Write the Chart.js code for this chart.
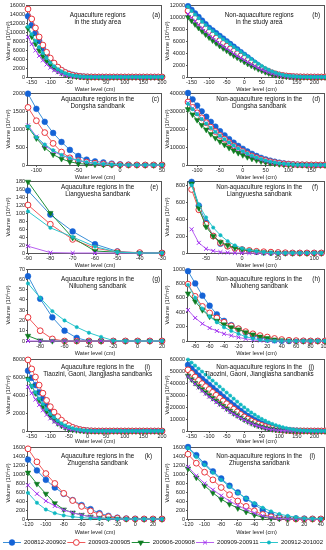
<!DOCTYPE html>
<html lang="en">
<head>
<meta charset="UTF-8">
<title>Water level - volume curves</title>
<script src="https://cdn.jsdelivr.net/npm/chart.js"></script>
<style>
  html, body { margin: 0; padding: 0; background: #fff; overflow: hidden; width: 326px; height: 550px; }
  canvas { position: absolute; }
</style>
</head>
<body>
<script>
// periods (legend)
var periods = ['200812-200902', '200903-200905', '200906-200908', '200909-200911', '200912-201002'];

// water levels (cm)
var levels1 = [-160,-150,-140,-130,-120,-110,-100,-90,-80,-70,-60,-50,-40,-30,-20,-10,0,10,20,30,40,50,60,70,80,90,100,110,120,130,140,150,160,170,180,190,200];
var levels2 = [-160,-150,-140,-130,-120,-110,-100,-90,-80,-70,-60,-50,-40,-30,-20,-10,0,10,20,30,40,50,60,70,80,90,100,110,120,130,140,150,160,170,180,190,200,210,220,230];
var levels3 = [-110,-100,-90,-80,-70,-60,-50,-40,-30,-20,-10,0,10,20,30,40,50];
var levels4 = [-120,-110,-100,-90,-80,-70,-60,-50,-40,-30,-20,-10,0,10,20,30,40,50,60,70,80,90,100,110,120,130,140,150,160,170,180];
var levels5 = [-90,-80,-70,-60,-50,-40,-30];
var levels6 = [-70,-60,-50,-40,-30,-20,-10,0,10,20,30,40,50,60,70,80,90,100,110];
var levels7 = [-90,-80,-70,-60,-50,-40,-30,-20,-10,0,10,20];
var levels8 = [-90,-80,-70,-60,-50,-40,-30,-20,-10,0,10,20,30,40,50,60,70,80,90,100];
var levels9 = [-120,-110,-100,-90,-80,-70,-60,-50,-40,-30,-20,-10,0,10,20,30];
var levels10 = [-120,-110,-100,-90,-80,-70,-60,-50,-40,-30,-20,-10,0,10,20,30,40];

// (a) aquaculture, study area
var aBlue = [13500,11500,9800,8000,6300,4900,3700,2800,2100,1500,1050,720,470,300,180,100,50,25,10,5,0,0,0,0,0,0,0,0,0,0,0,0,0,0,0,0,0];
var aRed = [15100,12900,10900,8900,7100,5500,4200,3100,2200,1500,1000,620,380,220,120,60,25,10,0,0,0,0,0,0,0,0,0,0,0,0,0,0,0,0,0,0,0];
var aGreen = [10800,9000,7400,5900,4600,3500,2600,1900,1350,900,580,360,210,120,60,25,10,0,0,0,0,0,0,0,0,0,0,0,0,0,0,0,0,0,0,0,0];
var aPurple = [8900,7300,5900,4700,3700,2800,2100,1500,1050,700,450,280,160,90,40,15,5,0,0,0,0,0,0,0,0,0,0,0,0,0,0,0,0,0,0,0,0];
var aCyan = [11200,9500,8000,6600,5300,4200,3200,2400,1750,1250,850,560,350,210,120,60,25,10,0,0,0,0,0,0,0,0,0,0,0,0,0,0,0,0,0,0,0];

// (b) non-aquaculture, study area
var bBlue = [11800,11200,10600,10000,9400,8800,8200,7750,7300,6850,6400,5950,5500,5050,4600,4150,3700,3250,2800,2350,1900,1500,1150,870,640,460,320,220,150,100,60,35,20,10,5,0,0,0,0,0];
var bRed = [11000,10400,9800,9200,8600,8050,7500,7000,6500,6050,5600,5150,4700,4300,3900,3500,3150,2800,2450,2100,1750,1450,1150,900,680,500,360,250,170,110,70,40,25,15,8,4,2,0,0,0];
var bGreen = [10000,9400,8800,8200,7650,7100,6600,6100,5650,5200,4800,4400,4000,3600,3250,2900,2550,2200,1900,1600,1320,1060,830,630,460,330,230,150,95,55,30,15,7,3,0,0,0,0,0,0];
var bPurple = [10500,9900,9300,8700,8100,7550,7000,6500,6000,5550,5100,4700,4300,3900,3500,3150,2800,2450,2100,1800,1500,1220,970,750,560,400,280,190,120,75,45,25,12,5,0,0,0,0,0,0];
var bCyan = [11700,11000,10400,9800,9200,8650,8100,7650,7200,6750,6300,5900,5450,5000,4600,4200,3800,3400,3000,2600,2200,1850,1500,1200,930,700,520,370,260,180,120,75,45,25,12,5,0,0,0,0];

// (c) aquaculture, Dongsha
var cBlue = [1980,1560,1200,890,640,420,250,150,100,70,40,20,10,5,0,0,0];
var cRed = [1600,1230,900,600,360,200,120,80,50,30,15,5,0,0,0,0,0];
var cGreen = [1050,740,480,290,170,90,40,20,10,5,0,0,0,0,0,0,0];
var cPurple = [1100,790,540,380,270,190,120,70,40,20,10,5,0,0,0,0,0];
var cCyan = [1070,770,570,410,280,190,130,80,50,30,15,5,0,0,0,0,0];

// (d) non-aquaculture, Dongsha
var dBlue = [40000,36500,33000,29800,26800,24000,21300,18800,16500,14400,12400,10600,9000,7500,6200,5000,4000,3100,2400,1800,1300,900,600,380,230,130,70,35,15,5,0];
var dRed = [35000,32000,29000,26200,23500,21000,18600,16400,14300,12400,10600,9000,7500,6200,5000,4000,3100,2400,1800,1300,900,600,400,250,150,90,50,25,10,5,0];
var dGreen = [31000,28000,25000,22200,19600,17200,15000,13000,11200,9500,8000,6700,5500,4400,3500,2700,2000,1500,1050,700,450,280,170,100,50,25,10,0,0,0,0];
var dPurple = [34500,31500,28600,25800,23200,20700,18400,16200,14100,12200,10400,8800,7300,6000,4800,3800,2900,2200,1600,1150,800,530,340,210,120,65,30,15,5,0,0];
var dCyan = [34000,31000,28200,25500,23000,20600,18400,16300,14300,12500,10800,9200,7700,6400,5200,4200,3300,2500,1900,1400,1000,700,470,300,180,100,55,25,10,5,0];

// (e) aquaculture, Liangyuesha
var eBlue = [156,96,54,22,4,0,0];
var eRed = [120,72,34,12,3,1,0];
var eGreen = [178,100,38,5,2,0,0];
var ePurple = [17,1,0,0,0,0,0];
var eCyan = [104,63,40,16,2,0,0];

// (f) non-aquaculture, Liangyuesha
var fBlue = [840,560,360,200,110,80,60,40,25,15,8,5,3,0,0,0,0,0,0];
var fRed = [750,510,340,200,120,80,55,40,30,20,15,10,6,3,0,0,0,0,0];
var fGreen = [820,530,310,200,130,90,60,40,25,15,8,4,0,0,0,0,0,0,0];
var fPurple = [280,120,50,25,10,5,0,0,0,0,0,0,0,0,0,0,0,0,0];
var fCyan = [800,570,420,300,210,140,90,55,35,20,10,5,0,0,0,0,0,0,0];

// (g) aquaculture, Niluoheng
var gBlue = [63,41,23,10,3,0,0,0,0,0,0,0];
var gRed = [23,10,2,0,0,0,0,0,0,0,0,0];
var gGreen = [5,0.5,0,0,0,0,0,0,0,0,0,0];
var gPurple = [0,0,0,0,0,0,0,0,0,0,0,0];
var gCyan = [56,42,29,20,13.5,8,4,0.5,0,0,0,0];

// (h) non-aquaculture, Niluoheng
var hBlue = [970,800,630,490,370,280,220,170,120,80,50,25,10,5,0,0,0,0,0,0];
var hRed = [790,620,480,390,320,260,210,170,130,100,75,55,35,20,10,5,2,0,0,0];
var hGreen = [660,550,430,340,280,230,190,160,120,90,60,40,20,10,5,0,0,0,0,0];
var hPurple = [430,320,240,180,140,100,75,50,30,15,5,0,0,0,0,0,0,0,0,0];
var hCyan = [780,600,450,340,260,190,140,100,60,35,15,5,0,0,0,0,0,0,0,0];

// (i) aquaculture, Tiaozini / Gaoni / Jiangjiasha
var iBlue = [6700,5900,5100,4300,3600,2900,2300,1800,1400,1050,780,560,390,260,160,90,45,20,5,0,0,0,0,0,0,0,0,0,0,0,0,0,0,0,0,0,0];
var iRed = [7900,6900,6000,5100,4200,3400,2700,2100,1600,1200,850,600,400,250,150,80,40,15,5,0,0,0,0,0,0,0,0,0,0,0,0,0,0,0,0,0,0];
var iGreen = [5800,5000,4200,3400,2700,2100,1600,1200,850,580,380,240,140,80,40,15,5,0,0,0,0,0,0,0,0,0,0,0,0,0,0,0,0,0,0,0,0];
var iPurple = [4900,4200,3500,2900,2300,1800,1400,1050,760,530,350,220,130,70,30,10,0,0,0,0,0,0,0,0,0,0,0,0,0,0,0,0,0,0,0,0,0];
var iCyan = [5700,5000,4300,3600,3000,2400,1900,1500,1150,850,620,440,300,190,110,60,30,10,0,0,0,0,0,0,0,0,0,0,0,0,0,0,0,0,0,0,0];

// (j) non-aquaculture, Tiaozini / Gaoni / Jiangjiasha
var jBlue = [55000,52000,49000,46200,43500,41000,38500,36000,33500,31000,28500,26000,23600,21300,19000,16700,14500,12500,10700,9000,7500,6100,4900,3900,3000,2300,1700,1200,850,580,380,240,140,80,40,20,10,5,0,0];
var jRed = [51000,48000,45000,42200,39500,37000,34600,32200,29800,27400,25000,22700,20400,18200,16000,13800,11800,10000,8400,7000,5700,4600,3600,2800,2100,1500,1100,750,500,320,200,120,70,40,20,10,5,0,0,0];
var jGreen = [46000,43000,40000,37300,34700,32200,29800,27500,25200,23000,20800,18700,16700,14800,13000,11200,9500,8000,6600,5400,4300,3400,2600,2000,1500,1100,800,550,370,240,150,90,50,25,10,0,0,0,0,0];
var jPurple = [45500,42300,39200,36300,33600,31000,28600,26300,24100,22000,19900,17900,16000,14200,12500,10800,9200,7700,6300,5100,4000,3100,2300,1700,1200,850,580,380,240,140,80,40,20,10,5,0,0,0,0,0];
var jCyan = [59500,57000,54500,52000,49500,47000,44500,42000,39500,37000,34500,32000,29500,27000,24500,22000,19700,17500,15400,13500,11700,10000,8500,7100,5900,4800,3900,3100,2400,1800,1300,900,600,400,250,150,80,40,20,10];

// (k) aquaculture, Zhugensha
var kBlue = [1320,1080,870,700,560,420,310,220,130,70,30,10,5,0,0,0];
var kRed = [1560,1270,1010,790,570,410,280,180,100,50,20,5,0,0,0,0];
var kGreen = [1030,780,560,350,210,140,90,50,25,10,5,0,0,0,0,0];
var kPurple = [750,560,400,290,200,140,90,50,25,10,0,0,0,0,0,0];
var kCyan = [580,360,210,130,80,50,30,15,8,3,0,0,0,0,0,0];

// (l) non-aquaculture, Zhugensha
var lBlue = [1600,1420,1230,1060,900,740,590,450,320,200,110,60,30,15,8,3,0];
var lRed = [1440,1240,1040,870,700,540,400,280,180,100,50,25,10,0,0,0,0];
var lGreen = [1120,920,740,580,440,330,240,160,90,40,15,5,0,0,0,0,0];
var lPurple = [1160,960,790,650,520,400,300,210,130,70,30,10,5,0,0,0,0];
var lCyan = [1580,1380,1200,1030,870,720,580,460,350,250,170,110,70,40,20,10,5];

// tick labels
var xTicks150 = [-150,-100,-50,0,50,100,150,200];
var xTicksC = [-100,-50,0,50];
var xTicksD = [-100,-50,0,50,100,150];
var xTicksE = [-90,-80,-70,-60,-50,-40,-30];
var xTicksF = [-50,0,50,100];
var xTicksG = [-80,-60,-40,-20,0,20];
var xTicksH = [-80,-60,-40,-20,0,20,40,60,80,100];
var xTicksK = [-120,-100,-80,-60,-40,-20,0,20];
var xTicksL = [-120,-100,-80,-60,-40,-20,0,20,40];
var yTicksA = [0,2000,4000,6000,8000,10000,12000,14000,16000];
var yTicksB = [0,2000,4000,6000,8000,10000,12000];
var yTicksC = [0,500,1000,1500,2000];
var yTicksD = [0,10000,20000,30000,40000];
var yTicksE = [0,20,40,60,80,100,120,140,160,180];
var yTicksF = [0,200,400,600,800];
var yTicksG = [0,10,20,30,40,50,60,70];
var yTicksH = [0,200,400,600,800,1000];
var yTicksI = [0,2000,4000,6000,8000];
var yTicksJ = [0,10000,20000,30000,40000,50000,60000];
var yTicksK = [0,200,400,600,800,1000,1200,1400,1600];

var panels = [
  {col:0, row:0, x:levels1, y:[aBlue,aRed,aGreen,aPurple,aCyan], xMin:-160, xMax:200, xTicks:xTicks150, yMax:16000, yTicks:yTicksA,
   title:['Aquaculture regions', 'in the study area'], tag:'(a)', tagIn:2},
  {col:1, row:0, x:levels2, y:[bBlue,bRed,bGreen,bPurple,bCyan], xMin:-160, xMax:230, xTicks:xTicks150, yMax:12000, yTicks:yTicksB,
   title:['Non-aquaculture regions', 'in the study area'], tag:'(b)', tagIn:5},
  {col:0, row:1, x:levels3, y:[cBlue,cRed,cGreen,cPurple,cCyan], xMin:-110, xMax:50, xTicks:xTicksC, yMax:2000, yTicks:yTicksC,
   title:['Aquaculture regions in the', 'Dongsha sandbank'], tag:'(c)', tagIn:3},
  {col:1, row:1, x:levels4, y:[dBlue,dRed,dGreen,dPurple,dCyan], xMin:-120, xMax:180, xTicks:xTicksD, yMax:40000, yTicks:yTicksD,
   title:['Non-aquaculture regions in the', 'Dongsha sandbank'], tag:'(d)', tagIn:5},
  {col:0, row:2, x:levels5, y:[eBlue,eRed,eGreen,ePurple,eCyan], xMin:-90, xMax:-30, xTicks:xTicksE, yMax:180, yTicks:yTicksE,
   title:['Aquaculture regions in the', 'Liangyuesha sandbank'], tag:'(e)', tagIn:4},
  {col:1, row:2, x:levels6, y:[fBlue,fRed,fGreen,fPurple,fCyan], xMin:-75, xMax:115, xTicks:xTicksF, yMax:850, yTicks:yTicksF,
   title:['Non-aquaculture regions in the', 'Liangyuesha sandbank'], tag:'(f)', tagIn:7},
  {col:0, row:3, x:levels7, y:[gBlue,gRed,gGreen,gPurple,gCyan], xMin:-90, xMax:20, xTicks:xTicksG, yMax:70, yTicks:yTicksG,
   title:['Aquaculture regions in the', 'Niluoheng sandbank'], tag:'(g)', tagIn:2},
  {col:1, row:3, x:levels8, y:[hBlue,hRed,hGreen,hPurple,hCyan], xMin:-90, xMax:100, xTicks:xTicksH, yMax:1000, yTicks:yTicksH,
   title:['Non-aquaculture regions in the', 'Niluoheng sandbank'], tag:'(h)', tagIn:5},
  {col:0, row:4, x:levels1, y:[iBlue,iRed,iGreen,iPurple,iCyan], xMin:-160, xMax:200, xTicks:xTicks150, yMax:8000, yTicks:yTicksI,
   title:['Aquaculture regions in the', 'Tiaozini, Gaoni, Jiangjiasha sandbanks'], tag:'(i)', tagIn:12},
  {col:1, row:4, x:levels2, y:[jBlue,jRed,jGreen,jPurple,jCyan], xMin:-160, xMax:230, xTicks:xTicks150, yMax:60000, yTicks:yTicksJ,
   title:['Non-aquaculture regions in the', 'Tiaozini, Gaoni, Jiangjiasha sandbanks'], tag:'(j)', tagIn:11},
  {col:0, row:5, x:levels9, y:[kBlue,kRed,kGreen,kPurple,kCyan], xMin:-120, xMax:30, xTicks:xTicksK, yMax:1600, yTicks:yTicksK,
   title:['Aquaculture regions in the', 'Zhugensha sandbank'], tag:'(k)', tagIn:10},
  {col:1, row:5, x:levels10, y:[lBlue,lRed,lGreen,lPurple,lCyan], xMin:-120, xMax:45, xTicks:xTicksL, yMax:1600, yTicks:yTicksK,
   title:['Non-aquaculture regions in the', 'Zhugensha sandbank'], tag:'(l)', tagIn:10}
];

// look of the five series
var seriesStyle = [
  {line:'#3b8fd8', fill:'#1463d6', border:'#1463d6', shape:'circle',   r:2.9, rot:0,   bw:0.5},
  {line:'#f05a5a', fill:'#ffffff', border:'#e8333a', shape:'circle',   r:2.9, rot:0,   bw:1},
  {line:'#1f8f3a', fill:'#0f7d22', border:'#0f7d22', shape:'triangle', r:3.2, rot:180, bw:0.5},
  {line:'#b860f0', fill:'#a030f0', border:'#a030f0', shape:'crossRot', r:2.8, rot:0,   bw:1},
  {line:'#2cc6cc', fill:'#10b9c2', border:'#10b9c2', shape:'circle',   r:1.7, rot:0,   bw:0.5}
];

var FONT = '"Liberation Sans", Arial, sans-serif';
var colLeft = [0, 163];
var plotLeft = [28, 188];
var plotRight = [162, 325];
var plotTop = [5, 93, 181, 269, 359, 447];
var plotH = 72;
var titleDy = [10, 6.5, 6, 10, 8.5, 9.5];
var xTitleDy = [12, 12, 12, 12, 10.5, 13.5];
var yTitleX = [8, 167];

function makePanel(p) {
  var cx = colLeft[p.col] - 4, cy = plotTop[p.row] - 6, cw = 171, ch = 96;
  var cv = document.createElement('canvas');
  cv.width = cw; cv.height = ch;
  cv.style.left = cx + 'px'; cv.style.top = cy + 'px';
  cv.style.width = cw + 'px'; cv.style.height = ch + 'px';
  document.body.appendChild(cv);

  var datasets = p.y.map(function(vals, i) {
    var s = seriesStyle[i];
    return {
      label: periods[i],
      data: p.x.map(function(lv, j) { return {x: lv, y: vals[j]}; }),
      borderColor: s.line,
      borderWidth: 1,
      pointStyle: s.shape,
      pointRotation: s.rot,
      pointRadius: s.r,
      pointBackgroundColor: s.fill,
      pointBorderColor: s.border,
      pointBorderWidth: s.bw,
      tension: 0,
      clip: false,
      order: 5 - i
    };
  });

  var panelText = {
    id: 'panelText',
    beforeDatasetsDraw: function(chart) {
      var a = chart.chartArea, ctx = chart.ctx;
      ctx.save();
      ctx.strokeStyle = '#555';
      ctx.lineWidth = 1;
      ctx.strokeRect(Math.round(a.left) - 0.5, Math.round(a.top) + 0.5,
                     Math.round(a.right - a.left), Math.round(a.bottom - a.top));
      ctx.restore();
    },
    afterDraw: function(chart) {
      var a = chart.chartArea, ctx = chart.ctx;
      ctx.save();
      ctx.fillStyle = '#111';
      ctx.textBaseline = 'middle';
      ctx.font = '6.3px ' + FONT;
      ctx.textAlign = 'center';
      var tx = a.left + (a.right - a.left) * 0.52;
      var ty = a.top + titleDy[p.row];
      p.title.forEach(function(line, k) { ctx.fillText(line, tx, ty + k * 7); });
      ctx.font = '6.3px ' + FONT;
      ctx.textAlign = 'right';
      ctx.fillText(p.tag, a.right - p.tagIn, ty);
      ctx.font = '5.6px ' + FONT;
      ctx.textAlign = 'center';
      ctx.fillStyle = '#222';
      ctx.fillText('Water level (cm)', (a.left + a.right) / 2, a.bottom + xTitleDy[p.row]);
      ctx.translate(yTitleX[p.col] - cx, (a.top + a.bottom) / 2);
      ctx.rotate(-Math.PI / 2);
      ctx.fillText('Volume (10\u2074m\u00b3)', 0, 0);
      ctx.restore();
    }
  };

  new Chart(cv, {
    type: 'line',
    data: { datasets: datasets },
    options: {
      responsive: false,
      animation: false,
      devicePixelRatio: 1,
      layout: { padding: { left: 0, top: 6, right: cx + cw - plotRight[p.col], bottom: 0 } },
      plugins: { legend: { display: false }, tooltip: { enabled: false } },
      scales: {
        x: {
          type: 'linear', min: p.xMin, max: p.xMax,
          afterBuildTicks: function(s) { s.ticks = p.xTicks.map(function(v) { return {value: v}; }); },
          afterFit: function(s) { s.height = ch - 6 - plotH; s.paddingLeft = 0; s.paddingRight = 0; },
          ticks: { font: {family: FONT, size: 5.5}, color: '#222', padding: 0, maxRotation: 0, autoSkip: false,
                   callback: function(v) { return String(v); } },
          grid: { drawOnChartArea: false, drawTicks: true, tickLength: 2, color: '#555' },
          border: { display: false }
        },
        y: {
          min: 0, max: p.yMax,
          afterBuildTicks: function(s) { s.ticks = p.yTicks.map(function(v) { return {value: v}; }); },
          afterFit: function(s) { s.width = plotLeft[p.col] - cx; s.paddingTop = 0; s.paddingBottom = 0; },
          ticks: { font: {family: FONT, size: 5.5}, color: '#222', padding: 1, autoSkip: false,
                   callback: function(v) { return String(v); } },
          grid: { drawOnChartArea: false, drawTicks: true, tickLength: 2, color: '#555' },
          border: { display: false }
        }
      }
    },
    plugins: [panelText]
  });
}

panels.forEach(makePanel);

// shared legend along the bottom
(function() {
  var cv = document.createElement('canvas');
  cv.width = 326; cv.height = 14;
  cv.style.left = '0px'; cv.style.top = '535px';
  cv.style.width = '326px'; cv.style.height = '14px';
  document.body.appendChild(cv);

  var legendDraw = {
    id: 'legendDraw',
    afterDraw: function(chart) {
      var ctx = chart.ctx;
      ctx.save();
      ctx.font = '6px ' + FONT;
      ctx.textBaseline = 'middle';
      var sample = 18, gap1 = 3;
      var widths = periods.map(function(t) { return ctx.measureText(t).width; });
      var total = widths.reduce(function(s, w) { return s + w + sample + gap1; }, 0);
      var gap = (320 - total) / 4;
      var x = 3, y = 7;
      chart.data.datasets.forEach(function(ds, i) {
        ctx.strokeStyle = ds.borderColor;
        ctx.lineWidth = 1;
        ctx.beginPath(); ctx.moveTo(x, y + 0.5); ctx.lineTo(x + sample, y + 0.5); ctx.stroke();
        ctx.fillStyle = ds.pointBackgroundColor;
        ctx.strokeStyle = ds.pointBorderColor;
        ctx.lineWidth = ds.pointBorderWidth;
        Chart.helpers.drawPoint(ctx, {pointStyle: ds.pointStyle, rotation: ds.pointRotation,
          radius: ds.pointRadius, borderWidth: ds.pointBorderWidth}, x + sample / 2, y + 0.5);
        ctx.fillStyle = '#111';
        ctx.textAlign = 'left';
        ctx.fillText(periods[i], x + sample + gap1, y);
        x += sample + gap1 + widths[i] + gap;
      });
      ctx.restore();
    }
  };

  new Chart(cv, {
    type: 'line',
    data: {
      datasets: periods.map(function(name, i) {
        var s = seriesStyle[i];
        return { label: name, data: [], borderColor: s.line, pointStyle: s.shape, pointRotation: s.rot,
                 pointRadius: s.r, pointBackgroundColor: s.fill, pointBorderColor: s.border, pointBorderWidth: s.bw };
      })
    },
    options: {
      responsive: false, animation: false, devicePixelRatio: 1,
      plugins: { legend: { display: false }, tooltip: { enabled: false } },
      scales: { x: { display: false }, y: { display: false } }
    },
    plugins: [legendDraw]
  });
})();
</script>
</body>
</html>
